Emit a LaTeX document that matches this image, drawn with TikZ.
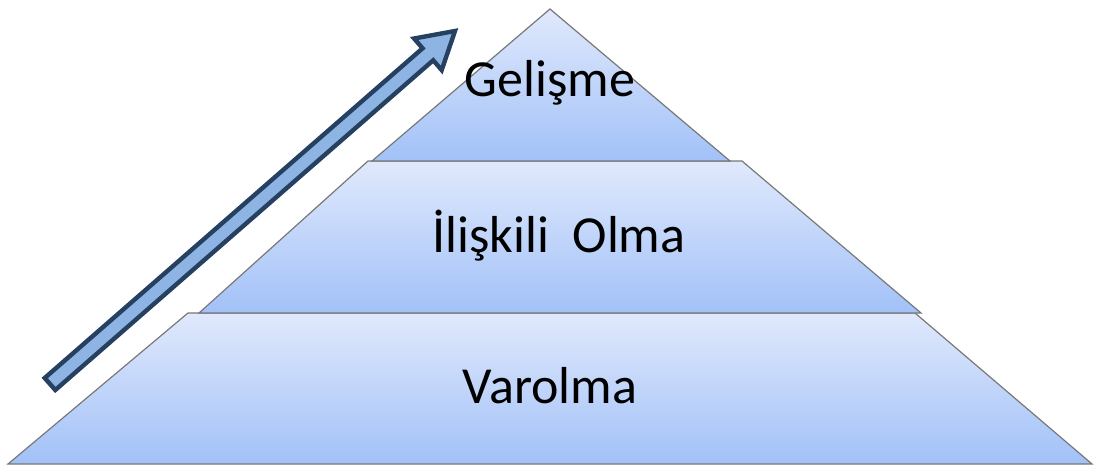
\documentclass[tikz,border=0pt]{standalone}
\usepackage{fontspec}
\setmainfont{Carlito}
\definecolor{layertop}{RGB}{224,233,252}
\definecolor{layerbot}{RGB}{162,193,248}
\definecolor{layeredge}{RGB}{120,120,120}
\definecolor{arrowfill}{RGB}{142,180,227}
\definecolor{arrowedge}{RGB}{37,64,97}
\tikzset{
  layer/.style={draw=layeredge, line width=0.9pt, line join=miter, top color=layertop, bottom color=layerbot},
  bigarrow/.style={draw=arrowedge, fill=arrowfill, line width=3.3pt, line join=miter, miter limit=4},
  label/.style={anchor=base, inner sep=0pt, font=\fontsize{39}{46}\selectfont, text=black}
}
\begin{document}
\begin{tikzpicture}[x=0.75pt,y=-0.75pt]
\useasboundingbox (0,0) rectangle (1096,467);
% bottom layer
\path[layer] (188,313) -- (915,313) -- (1092,464) -- (8,464) -- cycle;
% middle layer
\path[layer] (368,161) -- (742,161) -- (921,313) -- (199,313) -- cycle;
% top layer
\path[layer] (550,9) -- (730,161) -- (372,161) -- cycle;
% labels
\node[label] (gel) at (550,97) {Gelişme};
\node[label] (ili) at (559,252) {İlişkili\ \ Olma};
\node[label] (var) at (550,403) {Varolma};
% arrow
\coordinate (tailA) at (44.7,378.0);
\coordinate (tailB) at (55.3,390.0);
\coordinate (tip) at (455,31);
\path[bigarrow] (tailA) -- (422.6,48.3) -- (414.1,38.5) -- (tip) -- (441.7,70.1) -- (433.2,60.3) -- (tailB) -- cycle;
\end{tikzpicture}
\end{document}
